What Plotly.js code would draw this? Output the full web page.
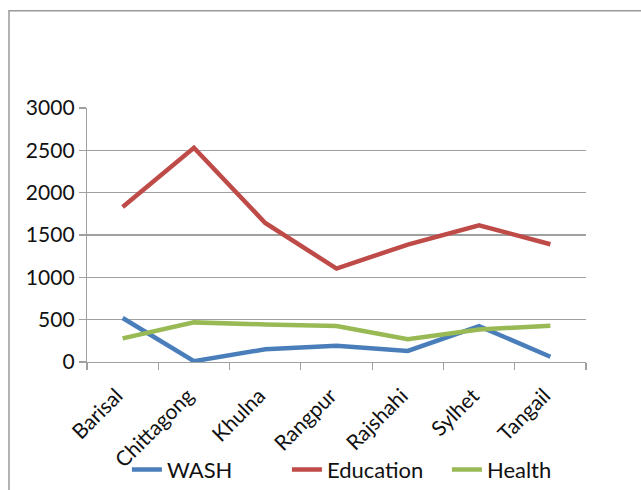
<!DOCTYPE html>
<html>
<head>
<meta charset="utf-8">
<script src="https://cdn.plot.ly/plotly-3.0.1.min.js"></script>
<style>
  html, body { margin: 0; padding: 0; background: #fff; }
  #chart { width: 641px; height: 490px; }
</style>
</head>
<body>
<div id="chart"></div>
<script>
const categories = ["Barisal", "Chittagong", "Khulna", "Rangpur", "Rajshahi", "Sylhet", "Tangail"];
const washValues = [520, 10, 150, 192, 130, 424, 62];
const educationValues = [1831, 2531, 1642, 1104, 1387, 1615, 1391];
const healthValues = [279, 468, 444, 424, 268, 385, 428];
const yTickValues = [0, 500, 1000, 1500, 2000, 2500, 3000];

const FONT = "Lato, 'Liberation Sans', sans-serif";

const traces = [
  { name: "WASH", y: washValues, color: "#4a7ebb" },
  { name: "Education", y: educationValues, color: "#be4b48" },
  { name: "Health", y: healthValues, color: "#98b954" }
].map(s => ({
  type: "scatter",
  mode: "lines",
  x: categories,
  y: s.y,
  name: s.name,
  line: { color: s.color, width: 4.5 },
  hoverinfo: "skip"
}));

const layout = {
  width: 641,
  height: 490,
  margin: { l: 87, r: 55, t: 107.5, b: 128, pad: 0, autoexpand: false },
  paper_bgcolor: "#ffffff",
  plot_bgcolor: "#ffffff",
  font: { family: FONT, size: 21, color: "#111111" },
  showlegend: true,
  legend: {
    orientation: "h",
    x: 0.08, xanchor: "left",
    y: -0.424, yanchor: "middle",
    font: { family: FONT, size: 22, color: "#111111" },
    bgcolor: "rgba(0,0,0,0)",
    entrywidth: 115,
    entrywidthmode: "pixels",
    traceorder: "normal"
  },
  xaxis: {
    type: "category",
    categoryorder: "array",
    categoryarray: categories,
    range: [-0.5, 6.5],
    automargin: false,
    showgrid: false,
    showline: true,
    linecolor: "#a0a0a0",
    linewidth: 1.2,
    ticks: "outside",
    tickson: "boundaries",
    ticklen: 7,
    tickcolor: "#a0a0a0",
    tickwidth: 1.2,
    tickangle: -45,
    ticklabelstandoff: 12,
    ticklabelshift: -6,
    tickfont: { family: FONT, size: 21, color: "#111111" },
    zeroline: false,
    fixedrange: true
  },
  yaxis: {
    range: [0, 3000],
    automargin: false,
    tickmode: "array",
    tickvals: yTickValues,
    ticktext: yTickValues.map(String),
    showgrid: true,
    gridcolor: "#a0a0a0",
    gridwidth: 1.2,
    showline: true,
    linecolor: "#a0a0a0",
    linewidth: 1.2,
    ticks: "outside",
    ticklen: 7,
    tickcolor: "#a0a0a0",
    tickwidth: 1.2,
    tickfont: { family: FONT, size: 21, color: "#111111" },
    zeroline: false,
    fixedrange: true
  },
  shapes: [
    {
      type: "rect",
      xref: "paper", yref: "paper",
      x0: (9 - 87) / 499, x1: 1.3,
      y0: -0.7, y1: (362 - 10) / 254.5,
      line: { color: "#9a9a9a", width: 1.5 },
      fillcolor: "rgba(0,0,0,0)",
      layer: "below"
    }
  ]
};

Plotly.newPlot("chart", traces, layout, { staticPlot: true, displayModeBar: false });
</script>
</body>
</html>
